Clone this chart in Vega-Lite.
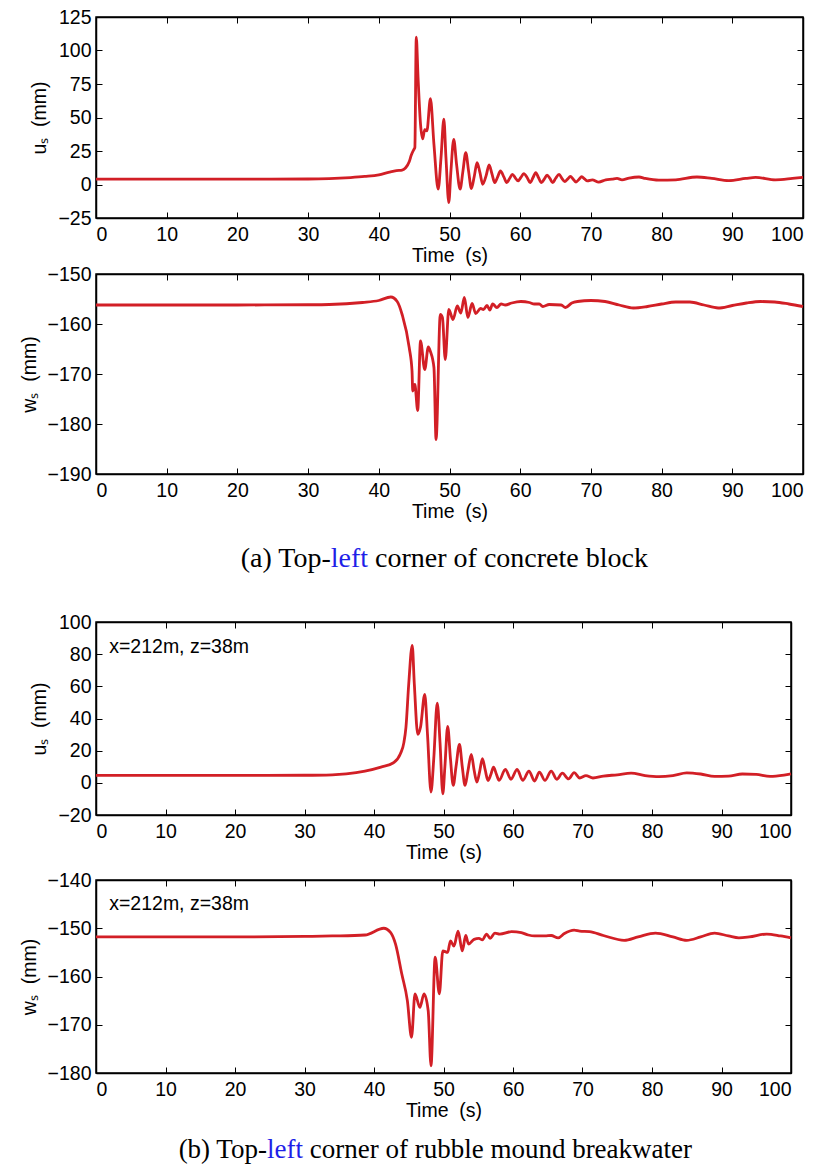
{
  "$schema": "https://vega.github.io/schema/vega-lite/v6.json",
  "padding": {"left": 18, "top": 6, "right": 5, "bottom": 5},
  "background": "white",
  "datasets": {
    "us_a": [
      {"t":0,"v":4.0},{"t":10,"v":4.0},{"t":20,"v":4.0},{"t":30,"v":4.1},{"t":33,"v":4.4},{"t":36,"v":5.2},{"t":38,"v":6.0},{"t":40,"v":7.2},{"t":41.5,"v":9.3},{"t":42.5,"v":10.4},{"t":43.3,"v":10.8},{"t":43.8,"v":12.5},{"t":44.3,"v":17},{"t":44.6,"v":22},{"t":45.0,"v":26.5},{"t":45.1,"v":27.5},{"t":45.3,"v":110},{"t":45.55,"v":80},{"t":45.9,"v":45},{"t":46.2,"v":34},{"t":46.5,"v":41},{"t":46.8,"v":40},{"t":47.3,"v":64},{"t":47.8,"v":30},{"t":48.4,"v":-3.5},{"t":48.8,"v":20},{"t":49.2,"v":48.7},{"t":49.5,"v":20},{"t":49.9,"v":-13.5},{"t":50.2,"v":10},{"t":50.6,"v":33.7},{"t":51.0,"v":15},{"t":51.5,"v":-3.5},{"t":51.9,"v":10},{"t":52.3,"v":23.8},{"t":52.7,"v":10},{"t":53.1,"v":-3},{"t":53.5,"v":6},{"t":53.9,"v":16.3},{"t":54.3,"v":9},{"t":54.7,"v":0.2},{"t":55.2,"v":7},{"t":55.6,"v":14.6},{"t":56.0,"v":8},{"t":56.4,"v":1.4},{"t":56.8,"v":5.5},{"t":57.2,"v":10.1},{"t":57.7,"v":5.5},{"t":58.1,"v":1.4},{"t":58.5,"v":4.5},{"t":58.9,"v":7.6},{"t":59.3,"v":5},{"t":59.7,"v":2.7},{"t":60.1,"v":5.3},{"t":60.5,"v":8.1},{"t":61.0,"v":5},{"t":61.4,"v":1.4},{"t":61.8,"v":5},{"t":62.2,"v":8.9},{"t":62.6,"v":5},{"t":63.0,"v":1.4},{"t":63.4,"v":4},{"t":63.8,"v":6.9},{"t":64.2,"v":4.5},{"t":64.6,"v":1.4},{"t":65.0,"v":4.5},{"t":65.5,"v":7.6},{"t":65.9,"v":4.5},{"t":66.3,"v":2.1},{"t":66.7,"v":4},{"t":67.1,"v":6.0},{"t":67.5,"v":4},{"t":67.9,"v":1.8},{"t":68.3,"v":3.8},{"t":68.7,"v":5.8},{"t":69.1,"v":4.2},{"t":69.5,"v":2.7},{"t":70.2,"v":3.5},{"t":71.1,"v":1.8},{"t":72.1,"v":3.5},{"t":73.0,"v":4.0},{"t":73.7,"v":4.5},{"t":74.4,"v":3.5},{"t":75.4,"v":4.8},{"t":76.8,"v":5.6},{"t":77.7,"v":4.5},{"t":79.6,"v":3.2},{"t":82.0,"v":3.5},{"t":85.0,"v":5.6},{"t":87.1,"v":4.5},{"t":89.5,"v":2.9},{"t":91.9,"v":4.5},{"t":93.3,"v":5.3},{"t":96.1,"v":3.5},{"t":98.5,"v":4.5},{"t":100,"v":5.3}
    ],
    "ws_a": [
      {"t":0,"v":-156.2},{"t":20,"v":-156.2},{"t":30,"v":-156.15},{"t":33,"v":-156.1},{"t":37.7,"v":-155.7},{"t":40,"v":-155.3},{"t":41.7,"v":-154.6},{"t":42.6,"v":-155.5},{"t":43.3,"v":-158.1},{"t":44.3,"v":-164.7},{"t":44.7,"v":-169.4},{"t":44.8,"v":-173.4},{"t":45.1,"v":-172.1},{"t":45.5,"v":-177.3},{"t":45.9,"v":-163.4},{"t":46.5,"v":-169.1},{"t":47.0,"v":-164.6},{"t":47.3,"v":-165.5},{"t":47.8,"v":-168.7},{"t":48.1,"v":-183.1},{"t":48.7,"v":-158.1},{"t":49.0,"v":-158.7},{"t":49.4,"v":-167.1},{"t":49.9,"v":-157.1},{"t":50.5,"v":-159.1},{"t":51.1,"v":-156.4},{"t":51.6,"v":-157.8},{"t":52.1,"v":-154.7},{"t":52.6,"v":-158.7},{"t":53.2,"v":-155.9},{"t":53.7,"v":-157.9},{"t":54.4,"v":-156.9},{"t":54.8,"v":-157.1},{"t":55.3,"v":-156.3},{"t":55.7,"v":-157.2},{"t":56.1,"v":-156},{"t":56.7,"v":-156.7},{"t":57.3,"v":-156},{"t":57.9,"v":-156.2},{"t":58.8,"v":-155.8},{"t":60.1,"v":-155.5},{"t":61.3,"v":-155.7},{"t":62.0,"v":-156},{"t":62.7,"v":-156},{"t":63.2,"v":-156.5},{"t":64.1,"v":-156.1},{"t":65.8,"v":-156.2},{"t":66.4,"v":-156.7},{"t":67.3,"v":-155.8},{"t":68.1,"v":-155.5},{"t":70,"v":-155.3},{"t":72,"v":-155.5},{"t":74,"v":-156.2},{"t":76,"v":-156.8},{"t":78,"v":-156.5},{"t":80,"v":-156},{"t":82,"v":-155.6},{"t":84,"v":-155.6},{"t":86,"v":-156.2},{"t":88,"v":-156.8},{"t":90,"v":-156.3},{"t":92,"v":-155.8},{"t":94,"v":-155.5},{"t":96,"v":-155.6},{"t":98,"v":-156},{"t":100,"v":-156.5}
    ],
    "us_b": [
      {"t":0,"v":4.6},{"t":20,"v":4.6},{"t":30,"v":4.7},{"t":34,"v":5.0},{"t":36,"v":5.6},{"t":38.7,"v":7.3},{"t":41,"v":9.8},{"t":42.8,"v":12.5},{"t":43.8,"v":18.1},{"t":44.3,"v":25},{"t":44.6,"v":34.7},{"t":45.0,"v":61.6},{"t":45.5,"v":85.5},{"t":45.8,"v":61.6},{"t":46.3,"v":30.1},{"t":46.7,"v":34.7},{"t":47.3,"v":55},{"t":47.7,"v":30},{"t":48.2,"v":-5.7},{"t":48.6,"v":15},{"t":49.1,"v":49.6},{"t":49.5,"v":25},{"t":49.9,"v":-6.8},{"t":50.2,"v":10},{"t":50.6,"v":35.1},{"t":51.0,"v":15},{"t":51.4,"v":-1.6},{"t":51.8,"v":10},{"t":52.3,"v":23.9},{"t":52.7,"v":10},{"t":53.1,"v":-1.6},{"t":53.5,"v":7},{"t":54.0,"v":17.7},{"t":54.4,"v":8},{"t":54.8,"v":0.5},{"t":55.2,"v":7},{"t":55.6,"v":15},{"t":56.0,"v":8},{"t":56.4,"v":1.5},{"t":56.8,"v":5},{"t":57.2,"v":9.8},{"t":57.6,"v":5.5},{"t":58.0,"v":1.5},{"t":58.9,"v":8.4},{"t":59.7,"v":2.2},{"t":60.6,"v":8.4},{"t":61.4,"v":1.5},{"t":62.3,"v":7.3},{"t":63.1,"v":1.1},{"t":63.8,"v":6.7},{"t":64.6,"v":1.5},{"t":65.5,"v":7.3},{"t":66.3,"v":2.2},{"t":67.1,"v":6.0},{"t":68.0,"v":2.4},{"t":68.8,"v":6.3},{"t":69.6,"v":3},{"t":70.5,"v":4.5},{"t":71.5,"v":3},{"t":73,"v":4.2},{"t":75,"v":5},{"t":77,"v":6},{"t":79,"v":4.5},{"t":81,"v":3.8},{"t":83,"v":4.5},{"t":85,"v":6.2},{"t":87,"v":5.5},{"t":89,"v":4},{"t":91,"v":4.2},{"t":93,"v":5.5},{"t":95,"v":5.2},{"t":97,"v":4},{"t":99,"v":4.8},{"t":100,"v":5.5}
    ],
    "ws_b": [
      {"t":0,"v":-151.8},{"t":20,"v":-151.8},{"t":30,"v":-151.7},{"t":34,"v":-151.6},{"t":38.7,"v":-151.4},{"t":41.4,"v":-150.0},{"t":42.4,"v":-150.9},{"t":43.1,"v":-153.3},{"t":44.0,"v":-159.5},{"t":44.8,"v":-165},{"t":45.4,"v":-172.6},{"t":45.9,"v":-163.6},{"t":46.6,"v":-166.4},{"t":47.2,"v":-163.6},{"t":47.8,"v":-167.1},{"t":48.2,"v":-178.5},{"t":48.8,"v":-156},{"t":49.4,"v":-163.6},{"t":49.9,"v":-154.7},{"t":50.6,"v":-155},{"t":51.0,"v":-152.6},{"t":51.5,"v":-153.7},{"t":52.1,"v":-150.6},{"t":52.7,"v":-154.7},{"t":53.2,"v":-151.5},{"t":53.6,"v":-153.3},{"t":54.4,"v":-152.3},{"t":55.1,"v":-152.1},{"t":55.6,"v":-152.4},{"t":56.2,"v":-151.2},{"t":56.7,"v":-152.1},{"t":57.4,"v":-151.0},{"t":58.1,"v":-151.2},{"t":59.8,"v":-150.7},{"t":61.2,"v":-150.9},{"t":62.2,"v":-151.4},{"t":63.1,"v":-151.6},{"t":64.6,"v":-151.6},{"t":65.5,"v":-151.5},{"t":66.5,"v":-152},{"t":67.4,"v":-151.1},{"t":68.8,"v":-150.4},{"t":69.6,"v":-150.6},{"t":71,"v":-150.7},{"t":73,"v":-151.5},{"t":76,"v":-152.5},{"t":78,"v":-151.8},{"t":80.5,"v":-151},{"t":83,"v":-151.8},{"t":85,"v":-152.5},{"t":87,"v":-151.8},{"t":89,"v":-151},{"t":91,"v":-151.6},{"t":92.5,"v":-152},{"t":94,"v":-151.8},{"t":96.5,"v":-151.2},{"t":98.5,"v":-151.6},{"t":100,"v":-152}
    ]
  },
  "spacing": 23,
  "vconcat": [
    {
      "bounds": "flush",
      "spacing": 56,
      "vconcat": [
        {
          "width": 707, "height": 201,
          "data": {"name": "us_a"},
          "layer": [
            {"mark": {"type": "line", "color": "#d21f26", "strokeWidth": 2.8, "interpolate": "monotone"},
             "encoding": {
               "x": {"field": "t", "type": "quantitative", "scale": {"domain": [0, 100], "nice": false}, "axis": {"orient": "bottom", "values": [0,10,20,30,40,50,60,70,80,90,100], "title": "Time\u00a0 (s)"}},
               "y": {"field": "v", "type": "quantitative", "scale": {"domain": [-25, 125], "nice": false, "zero": false}, "axis": {"orient": "left", "values": [-25,0,25,50,75,100,125], "title": "u\u209b\u00a0 (mm)"}}
             }},
            {"mark": {"type": "line", "opacity": 0},
             "encoding": {
               "x": {"field": "t", "type": "quantitative", "axis": {"orient": "top", "values": [0,10,20,30,40,50,60,70,80,90,100], "labels": false, "title": null}},
               "y": {"field": "v", "type": "quantitative", "axis": {"orient": "right", "values": [-25,0,25,50,75,100,125], "labels": false, "title": null}}
             }}
          ],
          "resolve": {"axis": {"x": "independent", "y": "independent"}}
        },
        {
          "width": 707, "height": 200,
          "data": {"name": "ws_a"},
          "layer": [
            {"mark": {"type": "line", "color": "#d21f26", "strokeWidth": 2.8, "interpolate": "monotone"},
             "encoding": {
               "x": {"field": "t", "type": "quantitative", "scale": {"domain": [0, 100], "nice": false}, "axis": {"orient": "bottom", "values": [0,10,20,30,40,50,60,70,80,90,100], "title": "Time\u00a0 (s)"}},
               "y": {"field": "v", "type": "quantitative", "scale": {"domain": [-190, -150], "nice": false, "zero": false}, "axis": {"orient": "left", "values": [-190,-180,-170,-160,-150], "title": "w\u209b\u00a0 (mm)"}}
             }},
            {"mark": {"type": "line", "opacity": 0},
             "encoding": {
               "x": {"field": "t", "type": "quantitative", "axis": {"orient": "top", "values": [0,10,20,30,40,50,60,70,80,90,100], "labels": false, "title": null}},
               "y": {"field": "v", "type": "quantitative", "axis": {"orient": "right", "values": [-190,-180,-170,-160,-150], "labels": false, "title": null}}
             }}
          ],
          "resolve": {"axis": {"x": "independent", "y": "independent"}}
        },
        {
          "width": 707, "height": 58,
          "view": {"stroke": null},
          "data": {"values": [{"pre": "(a) Top-", "word": "left", "rest": "corner of concrete block"}]},
          "layer": [
            {"mark": {"type": "text", "align": "right", "baseline": "middle", "font": "Liberation Serif", "fontSize": 28, "color": "black"},
             "encoding": {"x": {"datum": 33.2, "type": "quantitative", "scale": {"domain": [0, 100]}, "axis": null}, "text": {"field": "pre"}}},
            {"mark": {"type": "text", "align": "left", "baseline": "middle", "font": "Liberation Serif", "fontSize": 28, "color": "#1f1fe8"},
             "encoding": {"x": {"datum": 33.2, "type": "quantitative"}, "text": {"field": "word"}}},
            {"mark": {"type": "text", "align": "left", "baseline": "middle", "font": "Liberation Serif", "fontSize": 28, "color": "black"},
             "encoding": {"x": {"datum": 39.47, "type": "quantitative"}, "text": {"field": "rest"}}}
          ]
        }
      ]
    },
    {
      "bounds": "flush",
      "spacing": 65,
      "vconcat": [
        {
          "width": 695, "height": 193,
          "data": {"name": "us_b"},
          "layer": [
            {"mark": {"type": "line", "color": "#d21f26", "strokeWidth": 2.8, "interpolate": "monotone"},
             "encoding": {
               "x": {"field": "t", "type": "quantitative", "scale": {"domain": [0, 100], "nice": false}, "axis": {"orient": "bottom", "values": [0,10,20,30,40,50,60,70,80,90,100], "title": "Time\u00a0 (s)"}},
               "y": {"field": "v", "type": "quantitative", "scale": {"domain": [-20, 100], "nice": false, "zero": false}, "axis": {"orient": "left", "values": [-20,0,20,40,60,80,100], "title": "u\u209b\u00a0 (mm)"}}
             }},
            {"mark": {"type": "line", "opacity": 0},
             "encoding": {
               "x": {"field": "t", "type": "quantitative", "axis": {"orient": "top", "values": [0,10,20,30,40,50,60,70,80,90,100], "labels": false, "title": null}},
               "y": {"field": "v", "type": "quantitative", "axis": {"orient": "right", "values": [-20,0,20,40,60,80,100], "labels": false, "title": null}}
             }},
            {"data": {"values": [{"label": "x=212m, z=38m"}]},
             "mark": {"type": "text", "align": "left", "baseline": "middle", "font": "Liberation Sans", "fontSize": 19.5, "color": "black"},
             "encoding": {
               "x": {"datum": 1.9, "type": "quantitative", "axis": null},
               "y": {"datum": 84.5, "type": "quantitative", "axis": null},
               "text": {"field": "label"}
             }}
          ],
          "resolve": {"axis": {"x": "independent", "y": "independent"}}
        },
        {
          "width": 695, "height": 193,
          "data": {"name": "ws_b"},
          "layer": [
            {"mark": {"type": "line", "color": "#d21f26", "strokeWidth": 2.8, "interpolate": "monotone"},
             "encoding": {
               "x": {"field": "t", "type": "quantitative", "scale": {"domain": [0, 100], "nice": false}, "axis": {"orient": "bottom", "values": [0,10,20,30,40,50,60,70,80,90,100], "title": "Time\u00a0 (s)"}},
               "y": {"field": "v", "type": "quantitative", "scale": {"domain": [-180, -140], "nice": false, "zero": false}, "axis": {"orient": "left", "values": [-180,-170,-160,-150,-140], "title": "w\u209b\u00a0 (mm)"}}
             }},
            {"mark": {"type": "line", "opacity": 0},
             "encoding": {
               "x": {"field": "t", "type": "quantitative", "axis": {"orient": "top", "values": [0,10,20,30,40,50,60,70,80,90,100], "labels": false, "title": null}},
               "y": {"field": "v", "type": "quantitative", "axis": {"orient": "right", "values": [-180,-170,-160,-150,-140], "labels": false, "title": null}}
             }},
            {"data": {"values": [{"label": "x=212m, z=38m"}]},
             "mark": {"type": "text", "align": "left", "baseline": "middle", "font": "Liberation Sans", "fontSize": 19.5, "color": "black"},
             "encoding": {
               "x": {"datum": 1.9, "type": "quantitative", "axis": null},
               "y": {"datum": -145, "type": "quantitative", "axis": null},
               "text": {"field": "label"}
             }}
          ],
          "resolve": {"axis": {"x": "independent", "y": "independent"}}
        },
        {
          "width": 695, "height": 24,
          "view": {"stroke": null},
          "data": {"values": [{"pre": "(b) Top-", "word": "left", "rest": "corner of rubble mound breakwater"}]},
          "layer": [
            {"mark": {"type": "text", "align": "right", "baseline": "middle", "font": "Liberation Serif", "fontSize": 27, "color": "black"},
             "encoding": {"x": {"datum": 24.6, "type": "quantitative", "scale": {"domain": [0, 100]}, "axis": null}, "text": {"field": "pre"}}},
            {"mark": {"type": "text", "align": "left", "baseline": "middle", "font": "Liberation Serif", "fontSize": 27, "color": "#1f1fe8"},
             "encoding": {"x": {"datum": 24.6, "type": "quantitative"}, "text": {"field": "word"}}},
            {"mark": {"type": "text", "align": "left", "baseline": "middle", "font": "Liberation Serif", "fontSize": 27, "color": "black"},
             "encoding": {"x": {"datum": 30.75, "type": "quantitative"}, "text": {"field": "rest"}}}
          ]
        }
      ]
    }
  ],
  "config": {
    "font": "Liberation Sans",
    "view": {"stroke": "black", "strokeWidth": 1.5},
    "axis": {
      "grid": false,
      "domainColor": "black", "domainWidth": 1.5,
      "tickColor": "black", "tickWidth": 1, "tickSize": -6,
      "labelFont": "Liberation Sans", "labelFontSize": 19.5, "labelColor": "black",
      "titleFont": "Liberation Sans", "titleFontSize": 19.5, "titleFontWeight": "normal", "titleColor": "black"
    },
    "axisX": {"labelPadding": 13, "titlePadding": 3},
    "axisY": {"labelPadding": 11, "titlePadding": 8}
  }
}
